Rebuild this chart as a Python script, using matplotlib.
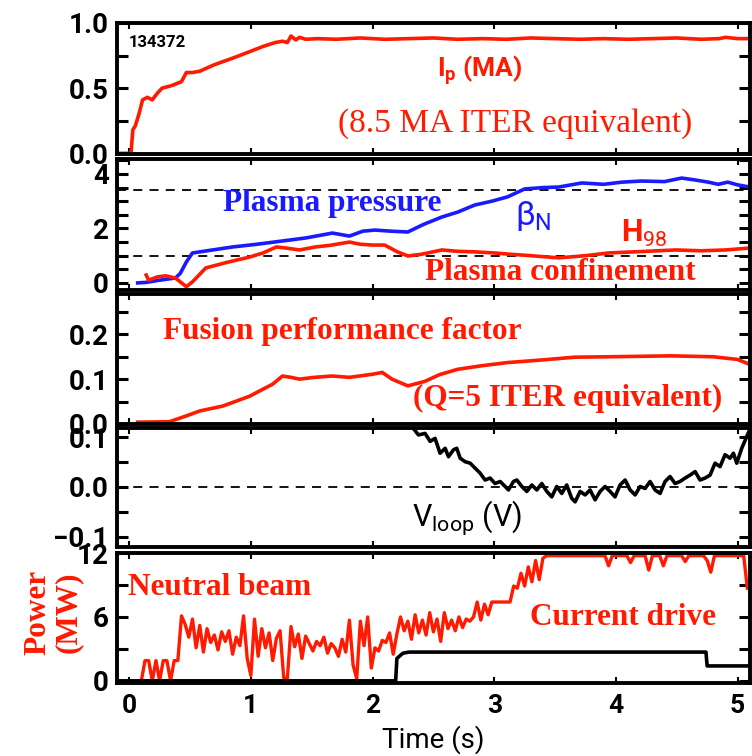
import numpy as np
import matplotlib.pyplot as plt
from matplotlib.ticker import MultipleLocator

plt.rcParams['font.family'] = ['Roboto', 'DejaVu Sans']
plt.rcParams['mathtext.fontset'] = 'custom'
plt.rcParams['mathtext.rm'] = 'Roboto'
plt.rcParams['mathtext.it'] = 'Roboto'
plt.rcParams['mathtext.bf'] = 'Roboto:bold'

RED = '#ff1a00'
BLUE = '#1a1aff'
SERIF = 'Liberation Serif'

# ---- panel 1: plasma current (MA)
ip_t = [-0.10, 0.00, 0.015, 0.03, 0.05, 0.08, 0.11, 0.15, 0.19, 0.23, 0.27, 0.35, 0.43,
        0.47, 0.52, 0.58, 0.70, 0.85, 0.99, 1.10, 1.20, 1.26, 1.30, 1.33, 1.37, 1.40,
        1.45, 1.55, 1.70, 1.90, 2.10, 2.30, 2.50, 2.70, 2.90, 3.10, 3.30, 3.50, 3.70,
        3.90, 4.10, 4.30, 4.50, 4.70, 4.85, 4.90, 5.00, 5.10]
ip_v = [0.0, 0.0, 0.0, 0.18, 0.21, 0.30, 0.41, 0.43, 0.41, 0.46, 0.50, 0.52, 0.55,
        0.62, 0.62, 0.63, 0.68, 0.73, 0.78, 0.82, 0.85, 0.86, 0.85, 0.90, 0.87, 0.89,
        0.875, 0.88, 0.875, 0.885, 0.875, 0.88, 0.885, 0.875, 0.88, 0.875, 0.885, 0.88,
        0.875, 0.88, 0.875, 0.88, 0.885, 0.875, 0.88, 0.89, 0.88, 0.88]

# ---- panel 2: beta_N and H98
bn_t = [0.07, 0.14, 0.25, 0.38, 0.42, 0.47, 0.52, 0.70, 0.85, 1.05, 1.26, 1.45, 1.67,
        1.81, 1.92, 2.02, 2.15, 2.29, 2.42, 2.57, 2.70, 2.84, 2.98, 3.11, 3.25, 3.40,
        3.53, 3.72, 3.90, 4.05, 4.21, 4.40, 4.54, 4.65, 4.76, 4.84, 4.92, 5.00, 5.10]
bn_v = [0.0, 0.02, 0.10, 0.18, 0.35, 0.77, 1.10, 1.22, 1.32, 1.42, 1.54, 1.65, 1.83,
        1.72, 1.90, 1.94, 1.90, 1.87, 2.15, 2.42, 2.60, 2.86, 3.00, 3.16, 3.45, 3.50,
        3.52, 3.67, 3.62, 3.70, 3.74, 3.72, 3.85, 3.78, 3.70, 3.62, 3.70, 3.60, 3.52]
h98_t = [0.14, 0.16, 0.23, 0.30, 0.38, 0.47, 0.52, 0.63, 0.80, 0.99, 1.10, 1.21, 1.29,
         1.40, 1.53, 1.65, 1.81, 1.90, 2.00, 2.10, 2.20, 2.29, 2.40, 2.57, 2.70, 2.84,
         3.00, 3.11, 3.30, 3.53, 3.75, 3.94, 4.20, 4.49, 4.70, 4.90, 5.10]
h98_v = [0.29, 0.10, 0.22, 0.26, 0.18, -0.14, 0.04, 0.55, 0.75, 0.95, 1.10, 1.32, 1.28,
         1.21, 1.32, 1.38, 1.50, 1.42, 1.39, 1.39, 1.15, 0.99, 1.05, 1.21, 1.16, 1.14,
         1.10, 1.06, 1.00, 0.92, 1.00, 1.10, 1.15, 1.21, 1.18, 1.21, 1.28]
bn_dash = [1.0, 3.4]

# ---- panel 3: fusion performance factor
q_t = [0.07, 0.33, 0.47, 0.58, 0.77, 0.99, 1.18, 1.26, 1.33, 1.40, 1.52, 1.67, 1.81,
       2.00, 2.08, 2.16, 2.29, 2.43, 2.55, 2.70, 2.90, 3.11, 3.40, 3.66, 3.95, 4.21,
       4.45, 4.63, 4.80, 4.90, 5.00, 5.10]
q_v = [0.004, 0.005, 0.018, 0.029, 0.040, 0.062, 0.089, 0.107, 0.104, 0.100, 0.104,
       0.107, 0.104, 0.111, 0.115, 0.100, 0.085, 0.095, 0.110, 0.122, 0.130, 0.137,
       0.143, 0.149, 0.150, 0.151, 0.152, 0.151, 0.150, 0.147, 0.144, 0.133]

# ---- panel 4: loop voltage (V)
vl_t = [2.30, 2.336, 2.377, 2.432, 2.473, 2.514, 2.555, 2.597, 2.624, 2.665, 2.692,
        2.720, 2.761, 2.802, 2.843, 2.884, 2.925, 2.966, 3.007, 3.049, 3.090, 3.117,
        3.158, 3.186, 3.227, 3.268, 3.309, 3.350, 3.391, 3.432, 3.473, 3.514, 3.555,
        3.596, 3.637, 3.665, 3.706, 3.747, 3.788, 3.829, 3.870, 3.911, 3.952, 3.993,
        4.034, 4.076, 4.117, 4.158, 4.199, 4.240, 4.281, 4.322, 4.363, 4.404, 4.445,
        4.486, 4.527, 4.569, 4.610, 4.651, 4.692, 4.733, 4.774, 4.815, 4.856, 4.897,
        4.938, 4.966, 4.993, 5.034, 5.111]
vl_v = [0.14, 0.118, 0.105, 0.108, 0.092, 0.098, 0.068, 0.078, 0.061, 0.075, 0.078,
        0.058, 0.051, 0.048, 0.038, 0.028, 0.014, 0.018, 0.007, 0.011, 0.001, -0.006,
        0.011, 0.014, 0.001, -0.009, 0.004, -0.006, 0.007, -0.009, -0.020, 0.001,
        -0.013, 0.004, -0.023, -0.030, -0.009, -0.016, -0.006, -0.026, -0.009, 0.001,
        -0.009, -0.020, 0.004, 0.014, -0.006, -0.016, 0.001, -0.003, 0.011, -0.006,
        -0.013, 0.011, 0.021, 0.007, 0.011, 0.018, 0.024, 0.031, 0.014, 0.018, 0.024,
        0.048, 0.041, 0.065, 0.058, 0.068, 0.048, 0.078, 0.122]

# ---- panel 5: neutral beam power (MW), samples every 0.03 s from 0.10 s
nb_v = [0.0, 1.9, 1.9, 0.0, 1.9, 0.0, 1.9, 1.9, 0.0, 1.9,
        1.9, 6.1, 5.3, 4.1, 5.8, 3.1, 5.2, 2.7, 4.9, 3.6,
        4.3, 2.9, 4.6, 3.7, 4.7, 2.5, 4.1, 3.3, 6.1, 2.1,
        0.5, 5.8, 2.3, 4.9, 3.1, 4.5, 1.9, 4.0, 4.7, 0.3,
        0.2, 5.1, 3.2, 4.4, 2.1, 4.2, 3.5, 2.8, 3.7, 3.3,
        4.1, 2.6, 3.5, 3.1, 2.3, 3.9, 2.7, 5.7, 1.5, 0.2,
        5.6, 3.3, 6.0, 1.2, 3.1, 2.8, 3.8, 3.6, 4.5, 2.5,
        4.4, 6.0, 4.7, 5.6, 3.9, 6.2, 4.5, 5.7, 4.3, 6.4,
        4.6, 5.8, 3.7, 6.4, 4.9, 5.7, 4.7, 6.0, 5.0, 5.8,
        5.6, 6.0, 7.4, 5.7, 7.2, 6.2, 7.4, 7.4, 7.4, 7.4,
        7.4, 7.4, 8.9, 8.7, 10.1, 8.9, 10.7, 9.3, 11.3, 9.5,
        11.5, 11.75, 11.75, 11.75, 11.75, 11.75, 11.75, 11.75, 11.75, 11.75,
        11.75, 11.75, 11.75, 11.75, 11.75, 11.75, 11.75, 11.75, 10.8, 11.75,
        11.75, 11.75, 11.75, 11.75, 11.1, 11.75, 11.75, 11.75, 11.75, 10.4,
        11.75, 11.75, 11.75, 10.8, 11.75, 11.75, 11.75, 11.75, 11.75, 11.2,
        11.75, 11.75, 11.75, 11.75, 11.75, 11.3, 10.2, 11.75, 11.75, 11.75,
        11.75, 11.75, 11.75, 11.75, 11.75, 11.75, 8.7]
nb_t = np.linspace(0.10, 5.08, len(nb_v))

cd_t = [-0.10, 2.19, 2.20, 2.25, 2.30, 4.74, 4.75, 5.10]
cd_v = [0.0, 0.0, 2.1, 2.6, 2.7, 2.7, 1.4, 1.4]

fig = plt.figure(figsize=(7.52, 7.56), dpi=100)
left, width = 0.1556, 0.8414
bounds = [(0.7963, 0.9696), (0.6164, 0.7897), (0.4392, 0.6111),
          (0.2765, 0.4339), (0.0966, 0.2685)]
axes = [fig.add_axes([left, b, width, t - b]) for b, t in bounds]

ylims = [(-0.005, 1.0), (-0.26, 4.55), (0.0, 0.29), (-0.121, 0.119), (-0.2, 12.0)]
ymaj = [0.5, 2, 0.1, 0.1, 6]
ymin = [0.25, 0.5, 0.05, 0.05, 3]
for ax, yl, ma, mi in zip(axes, ylims, ymaj, ymin):
    ax.set_xlim(-0.1, 5.1)
    ax.set_ylim(*yl)
    ax.yaxis.set_major_locator(MultipleLocator(ma))
    ax.yaxis.set_minor_locator(MultipleLocator(mi))
    ax.xaxis.set_major_locator(MultipleLocator(1))
    for s in ax.spines.values():
        s.set_linewidth(2.8)
    ax.tick_params(axis='y', which='both', direction='in', left=True, right=True,
                   length=8, width=2.2, labelsize=20, pad=6)
    ax.tick_params(axis='x', which='major', direction='in', top=True, bottom=True,
                   length=4, width=1.5, labelsize=19, pad=8)
    for lab in ax.get_yticklabels() + ax.get_xticklabels():
        lab.set_fontweight('bold')
    if ax is not axes[-1]:
        ax.tick_params(axis='x', labelbottom=False)

ax1, ax2, ax3, ax4, ax5 = axes

# panel 1
ax1.plot(ip_t, ip_v, color=RED, lw=2.6)
ax1.text(0.0, 0.85, '134372', fontsize=12, fontweight='bold', va='center', ha='left')
ax1.text(2.88, 0.64, r'$\mathbf{I_p}$ (MA)', color=RED, fontsize=19,
         fontweight='bold', ha='center', va='center')
ax1.text(3.17, 0.23, '(8.5 MA ITER equivalent)', color=RED, fontsize=24,
         family=SERIF, ha='center', va='center')

# panel 2
for d in bn_dash:
    ax2.axhline(d, color='black', lw=1.3, ls=(0, (5, 4)))
ax2.plot(bn_t, bn_v, color=BLUE, lw=2.6)
ax2.plot(h98_t, h98_v, color=RED, lw=2.6)
ax2.text(1.67, 2.9, 'Plasma pressure', color=BLUE, fontsize=22.5, fontweight='bold',
         family=SERIF, ha='center', va='center')
ax2.text(3.32, 2.45, r'$\beta_\mathrm{N}$', color=BLUE, fontsize=24,
         ha='center', va='center')
ax2.text(4.23, 1.8, r'H$_{98}$', color=RED, fontsize=22, fontweight='bold',
         ha='center', va='center')
ax2.text(3.54, 0.37, 'Plasma confinement', color=RED, fontsize=22.5, fontweight='bold',
         family=SERIF, ha='center', va='center')

# panel 3
ax3.plot(q_t, q_v, color=RED, lw=2.6)
ax3.text(1.75, 0.207, 'Fusion performance factor', color=RED, fontsize=22.5,
         fontweight='bold', family=SERIF, ha='center', va='center')
ax3.text(3.6, 0.056, '(Q=5 ITER equivalent)', color=RED, fontsize=22.5,
         fontweight='bold', family=SERIF, ha='center', va='center')

# panel 4
ax4.axhline(0.0, color='black', lw=1.3, ls=(0, (5, 4)))
ax4.plot(vl_t, vl_v, color='black', lw=2.6)
ax4.text(2.78, -0.062, r'V$_{\mathrm{loop}}$ (V)', fontsize=22, ha='center', va='center')

# panel 5
ax5.plot(nb_t, nb_v, color=RED, lw=2.4)
ax5.plot(cd_t, cd_v, color='black', lw=2.6)
ax5.set_yticks([0, 6, 12])
ax5.text(0.74, 8.8, 'Neutral beam', color=RED, fontsize=22.5, fontweight='bold',
         family=SERIF, ha='center', va='center')
ax5.text(4.06, 5.9, 'Current drive', color=RED, fontsize=22.5, fontweight='bold',
         family=SERIF, ha='center', va='center')
fig.text(0.071, 0.19, 'Power\n(MW)', color=RED, fontsize=22.5, fontweight='bold',
         family=SERIF, linespacing=1.05, rotation=90, ha='center', va='center')
ax5.set_xlabel('Time (s)', fontsize=20, labelpad=5)

fig.savefig('out.png', dpi=100)
